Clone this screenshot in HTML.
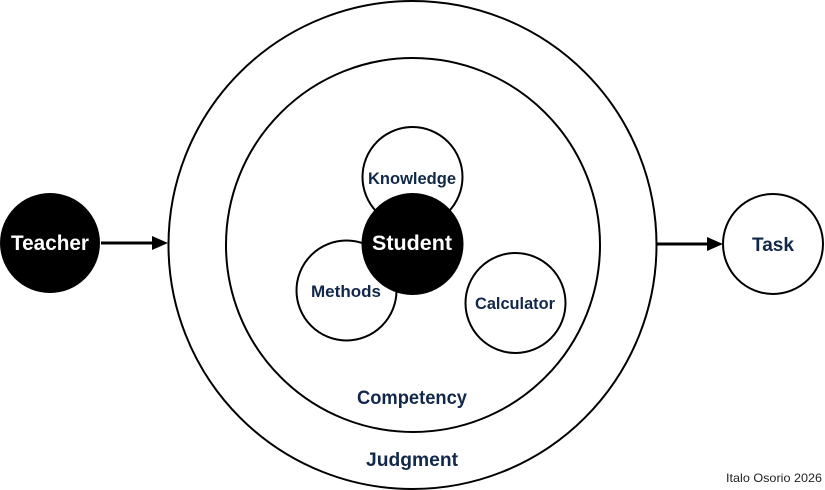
<!DOCTYPE html>
<html><head><meta charset="utf-8"><style>
html,body{margin:0;padding:0;background:#fff;}
svg{display:block;}
text{font-family:"Liberation Sans",sans-serif;font-weight:bold;fill:#12284a;}
</style></head><body>
<svg width="825" height="490" viewBox="0 0 825 490" xmlns="http://www.w3.org/2000/svg">
<defs><marker id="a" markerWidth="10" markerHeight="10" refX="9" refY="5" orient="auto" markerUnits="userSpaceOnUse"><path d="M0,0 L16,5 L0,10 Z" fill="#000" transform="scale(0.6,1)"/></marker></defs>
<circle cx="412.5" cy="245" r="244" fill="none" stroke="#000" stroke-width="2"/>
<circle cx="413" cy="245" r="187" fill="none" stroke="#000" stroke-width="2"/>
<circle cx="412.5" cy="177" r="50" fill="#fff" stroke="#000" stroke-width="2"/>
<circle cx="346.5" cy="290.5" r="50" fill="#fff" stroke="#000" stroke-width="2"/>
<circle cx="515.5" cy="303" r="50" fill="#fff" stroke="#000" stroke-width="2"/>
<circle cx="412.5" cy="244" r="51" fill="#000"/>
<circle cx="50" cy="243" r="50" fill="#000"/>
<circle cx="773" cy="244" r="50" fill="#fff" stroke="#000" stroke-width="2"/>
<line x1="101" y1="243" x2="155" y2="243" stroke="#000" stroke-width="3"/>
<path d="M152,236 L168,243 L152,250 Z" fill="#000"/>
<line x1="657" y1="244" x2="710" y2="244" stroke="#000" stroke-width="3"/>
<path d="M707,237 L723,244 L707,251 Z" fill="#000"/>
<text x="412" y="184" font-size="17" text-anchor="middle" textLength="88" lengthAdjust="spacingAndGlyphs">Knowledge</text>
<text x="412" y="250" font-size="21" text-anchor="middle" textLength="80" lengthAdjust="spacingAndGlyphs" style="fill:#fff">Student</text>
<text x="346" y="297" font-size="17" text-anchor="middle" textLength="70" lengthAdjust="spacingAndGlyphs">Methods</text>
<text x="515" y="309" font-size="17" text-anchor="middle" textLength="80" lengthAdjust="spacingAndGlyphs">Calculator</text>
<text x="50" y="250" font-size="21" text-anchor="middle" textLength="78" lengthAdjust="spacingAndGlyphs" style="fill:#fff">Teacher</text>
<text x="773" y="251" font-size="19" text-anchor="middle" textLength="42" lengthAdjust="spacingAndGlyphs">Task</text>
<text x="412" y="404" font-size="19" text-anchor="middle" textLength="110" lengthAdjust="spacingAndGlyphs">Competency</text>
<text x="412" y="466" font-size="19" text-anchor="middle" textLength="92" lengthAdjust="spacingAndGlyphs">Judgment</text>
<text x="822" y="482" font-size="12" text-anchor="end" textLength="96" lengthAdjust="spacingAndGlyphs" style="font-weight:normal;fill:#222">Italo Osorio 2026</text>
</svg>
</body></html>
